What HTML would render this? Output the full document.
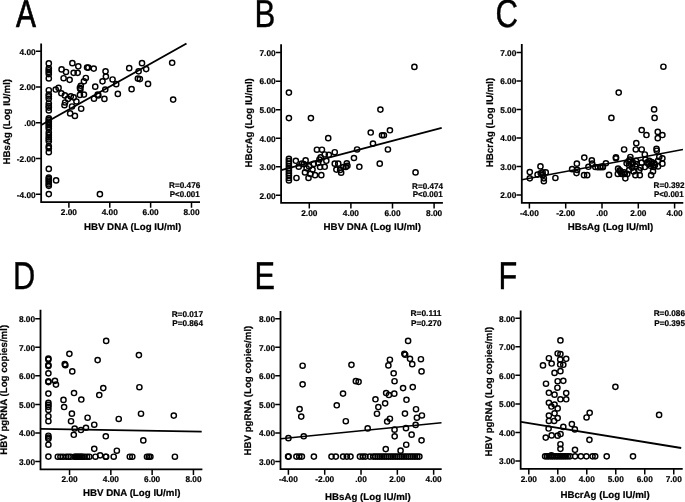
<!DOCTYPE html>
<html lang="en">
<head>
<meta charset="utf-8">
<title>Correlation scatter plots</title>
<style>
html,body{margin:0;padding:0;background:#fff;}
body{width:685px;height:502px;overflow:hidden;}
svg{display:block;font-family:"Liberation Sans",Arial,Helvetica,sans-serif;text-rendering:geometricPrecision;}
.ax{stroke:#000;stroke-width:1.8;fill:none;stroke-linecap:butt}
.tk{stroke:#000;stroke-width:1.5;fill:none}
.ln{stroke:#000;stroke-width:1.85;fill:none}
.pt circle{fill:none;stroke:#000;stroke-width:1.45}
.tl{font-size:8.3px;font-weight:bold;fill:#000;stroke:#000;stroke-width:0.2}
.ti{font-size:9.7px;font-weight:bold;fill:#000;stroke:#000;stroke-width:0.2}
.ty{font-size:9.7px;font-weight:bold;fill:#000;stroke:#000;stroke-width:0.2}
.st{font-size:8.3px;font-weight:bold;fill:#000;stroke:#000;stroke-width:0.2}
.lt{font-size:100px;font-weight:normal;fill:#000;stroke:#000;stroke-width:1.1}
</style>
</head>
<body>
<svg width="685" height="502" viewBox="0 0 685 502">
<rect x="0" y="0" width="685" height="502" fill="#fff"/>
<g>
<g id="panel-a">
<text class="lt" style="stroke-width:1.8" transform="matrix(0.2986 0 0 0.3910 16.04 27)" x="0" y="0">A</text>
<path class="ax" d="M41.15 43.6 V202.05 H200"/>
<path class="tk" d="M35.85 51.3H41.15M35.85 87.04H41.15M35.85 122.77H41.15M35.85 158.51H41.15M35.85 194.25H41.15M68.9 202.05V207.65M109.77 202.05V207.65M150.63 202.05V207.65M191.5 202.05V207.65"/>
<text class="tl" x="35.7" y="54.6" text-anchor="end" textLength="16.15" lengthAdjust="spacingAndGlyphs">4.00</text>
<text class="tl" x="35.7" y="90.34" text-anchor="end" textLength="16.15" lengthAdjust="spacingAndGlyphs">2.00</text>
<text class="tl" x="35.7" y="126.07" text-anchor="end" textLength="11.54" lengthAdjust="spacingAndGlyphs">.00</text>
<text class="tl" x="35.7" y="161.81" text-anchor="end" textLength="18.92" lengthAdjust="spacingAndGlyphs">-2.00</text>
<text class="tl" x="35.7" y="197.55" text-anchor="end" textLength="18.92" lengthAdjust="spacingAndGlyphs">-4.00</text>
<text class="tl" x="68.9" y="215.05" text-anchor="middle" textLength="16.15" lengthAdjust="spacingAndGlyphs">2.00</text>
<text class="tl" x="109.77" y="215.05" text-anchor="middle" textLength="16.15" lengthAdjust="spacingAndGlyphs">4.00</text>
<text class="tl" x="150.63" y="215.05" text-anchor="middle" textLength="16.15" lengthAdjust="spacingAndGlyphs">6.00</text>
<text class="tl" x="191.5" y="215.05" text-anchor="middle" textLength="16.15" lengthAdjust="spacingAndGlyphs">8.00</text>
<text class="ty" transform="translate(10.3 121.7) rotate(-90)" x="0" y="0" text-anchor="middle" textLength="85.6" lengthAdjust="spacingAndGlyphs">HBsAg (Log IU/ml)</text>
<text class="ti" x="132.6" y="229.7" text-anchor="middle" textLength="97.4" lengthAdjust="spacingAndGlyphs">HBV DNA (Log IU/ml)</text>
<text class="st" x="200.3" y="187.7" text-anchor="end" textLength="31.3" lengthAdjust="spacingAndGlyphs">R=0.476</text>
<text class="st" x="199.7" y="197" text-anchor="end" textLength="29.9" lengthAdjust="spacingAndGlyphs">P&lt;0.001</text>
<path class="ln" style="stroke-width:1.95" d="M41.3 125L186.5 43.5"/>
<g class="pt">
<circle cx="48.8" cy="63.4" r="2.6"/><circle cx="48.8" cy="68.3" r="2.6"/><circle cx="48.8" cy="70.2" r="2.6"/><circle cx="48.8" cy="72.1" r="2.6"/><circle cx="48.8" cy="74.1" r="2.6"/><circle cx="48.8" cy="78.4" r="2.6"/><circle cx="48.8" cy="90.2" r="2.6"/><circle cx="48.8" cy="94.6" r="2.6"/><circle cx="48.8" cy="96.4" r="2.6"/><circle cx="48.8" cy="98.8" r="2.6"/><circle cx="48.8" cy="103.6" r="2.6"/><circle cx="48.8" cy="106" r="2.6"/><circle cx="48.8" cy="107.6" r="2.6"/><circle cx="48.8" cy="110.4" r="2.6"/><circle cx="48.8" cy="118.3" r="2.6"/><circle cx="48.8" cy="119.9" r="2.6"/><circle cx="48.8" cy="121.6" r="2.6"/><circle cx="48.8" cy="123.1" r="2.6"/><circle cx="48.8" cy="124.9" r="2.6"/><circle cx="48.8" cy="126.8" r="2.6"/><circle cx="48.8" cy="128.7" r="2.6"/><circle cx="48.8" cy="132.5" r="2.6"/><circle cx="48.8" cy="135" r="2.6"/><circle cx="48.8" cy="137.5" r="2.6"/><circle cx="48.8" cy="139.4" r="2.6"/><circle cx="48.8" cy="141.3" r="2.6"/><circle cx="48.8" cy="146.3" r="2.6"/><circle cx="48.8" cy="148.2" r="2.6"/><circle cx="48.8" cy="152.2" r="2.6"/><circle cx="48.8" cy="168.9" r="2.6"/><circle cx="48.8" cy="177.5" r="2.6"/><circle cx="48.8" cy="179.1" r="2.6"/><circle cx="48.8" cy="180.7" r="2.6"/><circle cx="48.8" cy="182.4" r="2.6"/><circle cx="48.8" cy="184.3" r="2.6"/><circle cx="48.8" cy="185.8" r="2.6"/><circle cx="48.8" cy="194.1" r="2.6"/><circle cx="72.39" cy="63.16" r="2.6"/><circle cx="78.29" cy="66.3" r="2.6"/><circle cx="61.59" cy="69.44" r="2.6"/><circle cx="65.99" cy="71.95" r="2.6"/><circle cx="73.65" cy="72.83" r="2.6"/><circle cx="77.66" cy="72.83" r="2.6"/><circle cx="63.6" cy="78.23" r="2.6"/><circle cx="69.63" cy="79.86" r="2.6"/><circle cx="87.08" cy="67.55" r="2.6"/><circle cx="88.34" cy="67.55" r="2.6"/><circle cx="93.73" cy="68.56" r="2.6"/><circle cx="105.54" cy="71.32" r="2.6"/><circle cx="105.91" cy="76.59" r="2.6"/><circle cx="85.82" cy="77.98" r="2.6"/><circle cx="83.94" cy="81.36" r="2.6"/><circle cx="102.52" cy="81.36" r="2.6"/><circle cx="112.57" cy="79.48" r="2.6"/><circle cx="116.21" cy="84.13" r="2.6"/><circle cx="80.8" cy="85.76" r="2.6"/><circle cx="79.92" cy="87.89" r="2.6"/><circle cx="80.43" cy="89.15" r="2.6"/><circle cx="95.24" cy="86.64" r="2.6"/><circle cx="105.28" cy="89.53" r="2.6"/><circle cx="55.69" cy="89.53" r="2.6"/><circle cx="58.58" cy="87.89" r="2.6"/><circle cx="61.34" cy="93.29" r="2.6"/><circle cx="64.86" cy="95.43" r="2.6"/><circle cx="70.76" cy="96.43" r="2.6"/><circle cx="73.65" cy="97.44" r="2.6"/><circle cx="79.92" cy="94.92" r="2.6"/><circle cx="83.94" cy="94.55" r="2.6"/><circle cx="67.87" cy="98.94" r="2.6"/><circle cx="65.11" cy="102.46" r="2.6"/><circle cx="64.48" cy="105.22" r="2.6"/><circle cx="76.41" cy="101.45" r="2.6"/><circle cx="72.01" cy="106.47" r="2.6"/><circle cx="81.18" cy="108.73" r="2.6"/><circle cx="70.13" cy="113.38" r="2.6"/><circle cx="74.9" cy="115.89" r="2.6"/><circle cx="93.99" cy="98.69" r="2.6"/><circle cx="97.75" cy="94.55" r="2.6"/><circle cx="98.38" cy="95.43" r="2.6"/><circle cx="104.41" cy="98.94" r="2.6"/><circle cx="117.84" cy="93.92" r="2.6"/><circle cx="142.01" cy="63.16" r="2.6"/><circle cx="129.21" cy="68.18" r="2.6"/><circle cx="138.62" cy="71.32" r="2.6"/><circle cx="146.16" cy="69.06" r="2.6"/><circle cx="137.87" cy="78.6" r="2.6"/><circle cx="139.88" cy="79.11" r="2.6"/><circle cx="148.04" cy="83.88" r="2.6"/><circle cx="131.59" cy="89.15" r="2.6"/><circle cx="172.15" cy="62.78" r="2.6"/><circle cx="173.15" cy="99.57" r="2.6"/><circle cx="56.1" cy="180.4" r="2.6"/><circle cx="99.9" cy="194.2" r="2.6"/>
</g>
</g>
<g id="panel-b">
<text class="lt" transform="matrix(0.3119 0 0 0.3895 254.54 27)" x="0" y="0">B</text>
<path class="ax" d="M281.1 44.2 V202.85 H442.9"/>
<path class="tk" d="M275.8 52.6H281.1M275.8 81.14H281.1M275.8 109.68H281.1M275.8 138.22H281.1M275.8 166.76H281.1M275.8 195.3H281.1M309.3 202.85V208.45M350.9 202.85V208.45M392.5 202.85V208.45M434.1 202.85V208.45"/>
<text class="tl" x="275.65" y="55.9" text-anchor="end" textLength="16.15" lengthAdjust="spacingAndGlyphs">7.00</text>
<text class="tl" x="275.65" y="84.44" text-anchor="end" textLength="16.15" lengthAdjust="spacingAndGlyphs">6.00</text>
<text class="tl" x="275.65" y="112.98" text-anchor="end" textLength="16.15" lengthAdjust="spacingAndGlyphs">5.00</text>
<text class="tl" x="275.65" y="141.52" text-anchor="end" textLength="16.15" lengthAdjust="spacingAndGlyphs">4.00</text>
<text class="tl" x="275.65" y="170.06" text-anchor="end" textLength="16.15" lengthAdjust="spacingAndGlyphs">3.00</text>
<text class="tl" x="275.65" y="198.6" text-anchor="end" textLength="16.15" lengthAdjust="spacingAndGlyphs">2.00</text>
<text class="tl" x="309.3" y="215.85" text-anchor="middle" textLength="16.15" lengthAdjust="spacingAndGlyphs">2.00</text>
<text class="tl" x="350.9" y="215.85" text-anchor="middle" textLength="16.15" lengthAdjust="spacingAndGlyphs">4.00</text>
<text class="tl" x="392.5" y="215.85" text-anchor="middle" textLength="16.15" lengthAdjust="spacingAndGlyphs">6.00</text>
<text class="tl" x="434.1" y="215.85" text-anchor="middle" textLength="16.15" lengthAdjust="spacingAndGlyphs">8.00</text>
<text class="ty" transform="translate(251.7 122.9) rotate(-90)" x="0" y="0" text-anchor="middle" textLength="89.4" lengthAdjust="spacingAndGlyphs">HBcrAg (Log IU/ml)</text>
<text class="ti" x="372.3" y="230" text-anchor="middle" textLength="97.4" lengthAdjust="spacingAndGlyphs">HBV DNA (Log IU/ml)</text>
<text class="st" x="443" y="188.6" text-anchor="end" textLength="31" lengthAdjust="spacingAndGlyphs">R=0.474</text>
<text class="st" x="442.6" y="197.2" text-anchor="end" textLength="29.9" lengthAdjust="spacingAndGlyphs">P&lt;0.001</text>
<path class="ln" style="stroke-width:1.85" d="M281.2 170.2L441.7 127.8"/>
<g class="pt">
<circle cx="288.9" cy="158.8" r="2.6"/><circle cx="288.9" cy="161.2" r="2.6"/><circle cx="288.9" cy="163.6" r="2.6"/><circle cx="288.9" cy="166" r="2.6"/><circle cx="288.9" cy="168.4" r="2.6"/><circle cx="288.9" cy="170.8" r="2.6"/><circle cx="288.9" cy="173.2" r="2.6"/><circle cx="288.9" cy="175.6" r="2.6"/><circle cx="288.9" cy="178" r="2.6"/><circle cx="288.9" cy="180.4" r="2.6"/><circle cx="288.9" cy="92.6" r="2.6"/><circle cx="288.9" cy="118.1" r="2.6"/><circle cx="310.9" cy="118.1" r="2.6"/><circle cx="414.4" cy="66.9" r="2.6"/><circle cx="380.4" cy="109.6" r="2.6"/><circle cx="328.22" cy="138.16" r="2.6"/><circle cx="316.92" cy="149.71" r="2.6"/><circle cx="321.94" cy="149.71" r="2.6"/><circle cx="334.75" cy="152.22" r="2.6"/><circle cx="328.85" cy="154.86" r="2.6"/><circle cx="324.7" cy="154.48" r="2.6"/><circle cx="320.69" cy="157.37" r="2.6"/><circle cx="319.43" cy="159.5" r="2.6"/><circle cx="326.34" cy="160.76" r="2.6"/><circle cx="318.18" cy="162.89" r="2.6"/><circle cx="313.78" cy="163.9" r="2.6"/><circle cx="305.62" cy="160.38" r="2.6"/><circle cx="295.83" cy="160.76" r="2.6"/><circle cx="301.85" cy="163.65" r="2.6"/><circle cx="303.74" cy="164.15" r="2.6"/><circle cx="298.72" cy="166.66" r="2.6"/><circle cx="309.14" cy="166.41" r="2.6"/><circle cx="320.06" cy="167.04" r="2.6"/><circle cx="324.7" cy="166.79" r="2.6"/><circle cx="306.62" cy="168.29" r="2.6"/><circle cx="312.53" cy="169.55" r="2.6"/><circle cx="304.99" cy="172.44" r="2.6"/><circle cx="310.39" cy="173.94" r="2.6"/><circle cx="315.04" cy="175.2" r="2.6"/><circle cx="321.31" cy="175.2" r="2.6"/><circle cx="308.51" cy="177.96" r="2.6"/><circle cx="296.46" cy="177.96" r="2.6"/><circle cx="357.09" cy="149.46" r="2.6"/><circle cx="353.96" cy="158" r="2.6"/><circle cx="359.35" cy="166.79" r="2.6"/><circle cx="346.8" cy="163.27" r="2.6"/><circle cx="347.43" cy="165.78" r="2.6"/><circle cx="345.8" cy="167.04" r="2.6"/><circle cx="334.75" cy="163.65" r="2.6"/><circle cx="338.26" cy="163.65" r="2.6"/><circle cx="336.38" cy="169.55" r="2.6"/><circle cx="340.15" cy="169.92" r="2.6"/><circle cx="341.15" cy="172.69" r="2.6"/><circle cx="343.28" cy="167.04" r="2.6"/><circle cx="370.72" cy="132.51" r="2.6"/><circle cx="382.01" cy="135.27" r="2.6"/><circle cx="383.9" cy="135.27" r="2.6"/><circle cx="389.92" cy="130.25" r="2.6"/><circle cx="372.98" cy="143.56" r="2.6"/><circle cx="387.92" cy="149.46" r="2.6"/><circle cx="379.75" cy="163.65" r="2.6"/><circle cx="415.54" cy="172.44" r="2.6"/>
</g>
</g>
<g id="panel-c">
<text class="lt" style="stroke-width:1.1" transform="matrix(0.3126 0 0 0.3927 495.41 27.12)" x="0" y="0">C</text>
<path class="ax" d="M521.8 43.9 V202.9 H683.3"/>
<path class="tk" d="M516.5 52.4H521.8M516.5 80.93H521.8M516.5 109.46H521.8M516.5 137.99H521.8M516.5 166.52H521.8M516.5 195.05H521.8M529.4 202.9V208.5M565.7 202.9V208.5M602 202.9V208.5M638.3 202.9V208.5M674.6 202.9V208.5"/>
<text class="tl" x="516.35" y="55.7" text-anchor="end" textLength="16.15" lengthAdjust="spacingAndGlyphs">7.00</text>
<text class="tl" x="516.35" y="84.23" text-anchor="end" textLength="16.15" lengthAdjust="spacingAndGlyphs">6.00</text>
<text class="tl" x="516.35" y="112.76" text-anchor="end" textLength="16.15" lengthAdjust="spacingAndGlyphs">5.00</text>
<text class="tl" x="516.35" y="141.29" text-anchor="end" textLength="16.15" lengthAdjust="spacingAndGlyphs">4.00</text>
<text class="tl" x="516.35" y="169.82" text-anchor="end" textLength="16.15" lengthAdjust="spacingAndGlyphs">3.00</text>
<text class="tl" x="516.35" y="198.35" text-anchor="end" textLength="16.15" lengthAdjust="spacingAndGlyphs">2.00</text>
<text class="tl" x="529.4" y="215.9" text-anchor="middle" textLength="18.92" lengthAdjust="spacingAndGlyphs">-4.00</text>
<text class="tl" x="565.7" y="215.9" text-anchor="middle" textLength="18.92" lengthAdjust="spacingAndGlyphs">-2.00</text>
<text class="tl" x="602" y="215.9" text-anchor="middle" textLength="11.54" lengthAdjust="spacingAndGlyphs">.00</text>
<text class="tl" x="638.3" y="215.9" text-anchor="middle" textLength="16.15" lengthAdjust="spacingAndGlyphs">2.00</text>
<text class="tl" x="674.6" y="215.9" text-anchor="middle" textLength="16.15" lengthAdjust="spacingAndGlyphs">4.00</text>
<text class="ty" transform="translate(492.7 122.5) rotate(-90)" x="0" y="0" text-anchor="middle" textLength="89.4" lengthAdjust="spacingAndGlyphs">HBcrAg (Log IU/ml)</text>
<text class="ti" x="610.5" y="229.7" text-anchor="middle" textLength="85.6" lengthAdjust="spacingAndGlyphs">HBsAg (Log IU/ml)</text>
<text class="st" x="684.6" y="188.3" text-anchor="end" textLength="31" lengthAdjust="spacingAndGlyphs">R=0.392</text>
<text class="st" x="683.6" y="197.2" text-anchor="end" textLength="29.7" lengthAdjust="spacingAndGlyphs">P&lt;0.001</text>
<path class="ln" style="stroke-width:1.5" d="M521.8 179.8L683 149.6"/>
<g class="pt">
<circle cx="663.4" cy="66.7" r="2.6"/><circle cx="618.7" cy="92.6" r="2.6"/><circle cx="654.1" cy="109.4" r="2.6"/><circle cx="611.4" cy="117.9" r="2.6"/><circle cx="654.6" cy="117.9" r="2.6"/><circle cx="529.79" cy="172.06" r="2.6"/><circle cx="529.79" cy="178.34" r="2.6"/><circle cx="540.46" cy="166.41" r="2.6"/><circle cx="537.58" cy="174.57" r="2.6"/><circle cx="540.72" cy="173.31" r="2.6"/><circle cx="542.6" cy="172.44" r="2.6"/><circle cx="545.74" cy="172.44" r="2.6"/><circle cx="542.6" cy="175.2" r="2.6"/><circle cx="543.85" cy="178.34" r="2.6"/><circle cx="543.85" cy="181.22" r="2.6"/><circle cx="555.4" cy="177.96" r="2.6"/><circle cx="572.1" cy="169.17" r="2.6"/><circle cx="576.87" cy="163.65" r="2.6"/><circle cx="577.12" cy="169.92" r="2.6"/><circle cx="576.5" cy="173.06" r="2.6"/><circle cx="584.28" cy="157.62" r="2.6"/><circle cx="591.81" cy="160.38" r="2.6"/><circle cx="592.19" cy="163.65" r="2.6"/><circle cx="588.42" cy="166.79" r="2.6"/><circle cx="584.03" cy="175.2" r="2.6"/><circle cx="587.17" cy="175.2" r="2.6"/><circle cx="595.33" cy="167.04" r="2.6"/><circle cx="597.84" cy="167.29" r="2.6"/><circle cx="600.35" cy="167.29" r="2.6"/><circle cx="602.86" cy="167.29" r="2.6"/><circle cx="641.69" cy="130" r="2.6"/><circle cx="646.46" cy="135.02" r="2.6"/><circle cx="657.76" cy="131.88" r="2.6"/><circle cx="662.4" cy="135.02" r="2.6"/><circle cx="657.76" cy="138.16" r="2.6"/><circle cx="636.29" cy="143.18" r="2.6"/><circle cx="624.11" cy="149.46" r="2.6"/><circle cx="635.79" cy="149.46" r="2.6"/><circle cx="641.69" cy="149.46" r="2.6"/><circle cx="656.5" cy="148.83" r="2.6"/><circle cx="656.75" cy="150.72" r="2.6"/><circle cx="615.95" cy="157.37" r="2.6"/><circle cx="615.95" cy="158.25" r="2.6"/><circle cx="605.91" cy="163.27" r="2.6"/><circle cx="644.82" cy="154.48" r="2.6"/><circle cx="630.39" cy="156.99" r="2.6"/><circle cx="629.76" cy="159.5" r="2.6"/><circle cx="636.04" cy="160.76" r="2.6"/><circle cx="645.45" cy="159.5" r="2.6"/><circle cx="641.69" cy="162.64" r="2.6"/><circle cx="659.26" cy="156.99" r="2.6"/><circle cx="662.4" cy="158.25" r="2.6"/><circle cx="662.4" cy="163.65" r="2.6"/><circle cx="658.01" cy="160.76" r="2.6"/><circle cx="654.24" cy="163.27" r="2.6"/><circle cx="651.73" cy="163.9" r="2.6"/><circle cx="648.59" cy="163.9" r="2.6"/><circle cx="626.62" cy="163.27" r="2.6"/><circle cx="629.13" cy="165.15" r="2.6"/><circle cx="635.41" cy="166.41" r="2.6"/><circle cx="640.43" cy="167.66" r="2.6"/><circle cx="644.82" cy="167.04" r="2.6"/><circle cx="653.61" cy="167.04" r="2.6"/><circle cx="658.01" cy="166.41" r="2.6"/><circle cx="618.08" cy="168.67" r="2.6"/><circle cx="620.34" cy="171.43" r="2.6"/><circle cx="617.83" cy="173.94" r="2.6"/><circle cx="621.6" cy="173.94" r="2.6"/><circle cx="624.74" cy="173.94" r="2.6"/><circle cx="627.25" cy="173.94" r="2.6"/><circle cx="625.36" cy="178.34" r="2.6"/><circle cx="609.04" cy="174.95" r="2.6"/><circle cx="635.41" cy="175.2" r="2.6"/><circle cx="639.8" cy="175.2" r="2.6"/><circle cx="629.13" cy="170.18" r="2.6"/><circle cx="633.53" cy="171.43" r="2.6"/><circle cx="639.18" cy="170.18" r="2.6"/><circle cx="652.99" cy="171.43" r="2.6"/><circle cx="651.1" cy="175.2" r="2.6"/><circle cx="602.77" cy="166.41" r="2.6"/><circle cx="600.26" cy="166.79" r="2.6"/><circle cx="632.9" cy="162.64" r="2.6"/><circle cx="649.22" cy="160.76" r="2.6"/><circle cx="621.6" cy="173.31" r="2.6"/><circle cx="624.11" cy="172.44" r="2.6"/><circle cx="619.72" cy="170.43" r="2.6"/><circle cx="631.01" cy="164.15" r="2.6"/><circle cx="632.27" cy="167.66" r="2.6"/><circle cx="636.66" cy="164.15" r="2.6"/><circle cx="650.47" cy="165.78" r="2.6"/><circle cx="654.87" cy="165.15" r="2.6"/><circle cx="651.73" cy="162.01" r="2.6"/><circle cx="628.5" cy="161.39" r="2.6"/><circle cx="647.34" cy="162.39" r="2.6"/>
</g>
</g>
<g id="panel-d">
<text class="lt" transform="matrix(0.3073 0 0 0.3881 13.08 288.9)" x="0" y="0">D</text>
<path class="ax" d="M40.5 309.8 V469.3 H202.4"/>
<path class="tk" d="M35.2 318.8H40.5M35.2 347.33H40.5M35.2 375.86H40.5M35.2 404.39H40.5M35.2 432.92H40.5M35.2 461.45H40.5M69.55 469.3V474.9M110.85 469.3V474.9M152.15 469.3V474.9M193.45 469.3V474.9"/>
<text class="tl" x="35.05" y="322.1" text-anchor="end" textLength="16.15" lengthAdjust="spacingAndGlyphs">8.00</text>
<text class="tl" x="35.05" y="350.63" text-anchor="end" textLength="16.15" lengthAdjust="spacingAndGlyphs">7.00</text>
<text class="tl" x="35.05" y="379.16" text-anchor="end" textLength="16.15" lengthAdjust="spacingAndGlyphs">6.00</text>
<text class="tl" x="35.05" y="407.69" text-anchor="end" textLength="16.15" lengthAdjust="spacingAndGlyphs">5.00</text>
<text class="tl" x="35.05" y="436.22" text-anchor="end" textLength="16.15" lengthAdjust="spacingAndGlyphs">4.00</text>
<text class="tl" x="35.05" y="464.75" text-anchor="end" textLength="16.15" lengthAdjust="spacingAndGlyphs">3.00</text>
<text class="tl" x="69.55" y="482.3" text-anchor="middle" textLength="16.15" lengthAdjust="spacingAndGlyphs">2.00</text>
<text class="tl" x="110.85" y="482.3" text-anchor="middle" textLength="16.15" lengthAdjust="spacingAndGlyphs">4.00</text>
<text class="tl" x="152.15" y="482.3" text-anchor="middle" textLength="16.15" lengthAdjust="spacingAndGlyphs">6.00</text>
<text class="tl" x="193.45" y="482.3" text-anchor="middle" textLength="16.15" lengthAdjust="spacingAndGlyphs">8.00</text>
<text class="ty" transform="translate(7.3 389.8) rotate(-90)" x="0" y="0" text-anchor="middle" textLength="129.8" lengthAdjust="spacingAndGlyphs">HBV pgRNA (Log copies/ml)</text>
<text class="ti" x="131.7" y="495.5" text-anchor="middle" textLength="97.4" lengthAdjust="spacingAndGlyphs">HBV DNA (Log IU/ml)</text>
<text class="st" x="203" y="316.8" text-anchor="end" textLength="31.3" lengthAdjust="spacingAndGlyphs">R=0.017</text>
<text class="st" x="203" y="325.8" text-anchor="end" textLength="30.8" lengthAdjust="spacingAndGlyphs">P=0.864</text>
<path class="ln" style="stroke-width:1.8" d="M40.7 428.9L201.7 431.6"/>
<g class="pt">
<circle cx="48.4" cy="358.6" r="2.6"/><circle cx="48.4" cy="359.6" r="2.6"/><circle cx="48.4" cy="365.1" r="2.6"/><circle cx="48.4" cy="366.1" r="2.6"/><circle cx="48.4" cy="373.3" r="2.6"/><circle cx="48.4" cy="381.2" r="2.6"/><circle cx="48.4" cy="382.1" r="2.6"/><circle cx="48.4" cy="393.6" r="2.6"/><circle cx="48.4" cy="402.8" r="2.6"/><circle cx="48.4" cy="404.9" r="2.6"/><circle cx="48.4" cy="406.8" r="2.6"/><circle cx="48.4" cy="409.9" r="2.6"/><circle cx="48.4" cy="416.2" r="2.6"/><circle cx="48.4" cy="421.2" r="2.6"/><circle cx="48.4" cy="435.7" r="2.6"/><circle cx="48.4" cy="437.5" r="2.6"/><circle cx="48.4" cy="438.8" r="2.6"/><circle cx="48.4" cy="444.7" r="2.6"/><circle cx="48.4" cy="456.6" r="2.6"/><circle cx="69.39" cy="353.83" r="2.6"/><circle cx="64.74" cy="364.13" r="2.6"/><circle cx="65.37" cy="365.13" r="2.6"/><circle cx="72.27" cy="371.41" r="2.6"/><circle cx="54.95" cy="380.82" r="2.6"/><circle cx="55.95" cy="384.59" r="2.6"/><circle cx="74.03" cy="393" r="2.6"/><circle cx="97.64" cy="360.11" r="2.6"/><circle cx="106.17" cy="340.9" r="2.6"/><circle cx="103.28" cy="388.11" r="2.6"/><circle cx="99.27" cy="395.01" r="2.6"/><circle cx="63.49" cy="399.88" r="2.6"/><circle cx="81.31" cy="399.51" r="2.6"/><circle cx="64.11" cy="407.04" r="2.6"/><circle cx="71.9" cy="413.69" r="2.6"/><circle cx="71.02" cy="421.23" r="2.6"/><circle cx="87.59" cy="417.71" r="2.6"/><circle cx="94.25" cy="424.74" r="2.6"/><circle cx="118.73" cy="418.97" r="2.6"/><circle cx="74.66" cy="428.51" r="2.6"/><circle cx="80.94" cy="430.01" r="2.6"/><circle cx="85.96" cy="427.75" r="2.6"/><circle cx="73.78" cy="434.79" r="2.6"/><circle cx="105.8" cy="436.29" r="2.6"/><circle cx="94.25" cy="448.85" r="2.6"/><circle cx="116.84" cy="450.73" r="2.6"/><circle cx="100.15" cy="455.33" r="2.6"/><circle cx="57.81" cy="456.7" r="2.6"/><circle cx="60.44" cy="456.7" r="2.6"/><circle cx="63.07" cy="456.7" r="2.6"/><circle cx="66.28" cy="456.7" r="2.6"/><circle cx="68.47" cy="456.7" r="2.6"/><circle cx="70.66" cy="456.7" r="2.6"/><circle cx="74.45" cy="456.7" r="2.6"/><circle cx="75.62" cy="456.7" r="2.6"/><circle cx="76.79" cy="456.7" r="2.6"/><circle cx="77.96" cy="456.7" r="2.6"/><circle cx="79.12" cy="456.7" r="2.6"/><circle cx="80.29" cy="456.7" r="2.6"/><circle cx="81.46" cy="456.7" r="2.6"/><circle cx="82.63" cy="456.7" r="2.6"/><circle cx="84.53" cy="456.7" r="2.6"/><circle cx="87.01" cy="456.7" r="2.6"/><circle cx="89.34" cy="456.7" r="2.6"/><circle cx="95.47" cy="456.7" r="2.6"/><circle cx="105.69" cy="456.7" r="2.6"/><circle cx="106.13" cy="456.7" r="2.6"/><circle cx="113.72" cy="456.7" r="2.6"/><circle cx="138.9" cy="355.1" r="2.6"/><circle cx="139.4" cy="387.2" r="2.6"/><circle cx="141" cy="413.7" r="2.6"/><circle cx="173.8" cy="415.6" r="2.6"/><circle cx="143.3" cy="440.4" r="2.6"/><circle cx="129.8" cy="456.7" r="2.6"/><circle cx="132.3" cy="456.7" r="2.6"/><circle cx="147" cy="456.7" r="2.6"/><circle cx="148.9" cy="456.7" r="2.6"/><circle cx="150.4" cy="456.7" r="2.6"/><circle cx="174.9" cy="456.7" r="2.6"/>
</g>
</g>
<g id="panel-e">
<text class="lt" transform="matrix(0.3063 0 0 0.3881 254.59 288.9)" x="0" y="0">E</text>
<path class="ax" d="M280.5 311 V469.1 H441.7"/>
<path class="tk" d="M275.2 318.8H280.5M275.2 347.33H280.5M275.2 375.86H280.5M275.2 404.39H280.5M275.2 432.92H280.5M275.2 461.45H280.5M288.4 469.1V474.7M324.71 469.1V474.7M361.02 469.1V474.7M397.34 469.1V474.7M433.65 469.1V474.7"/>
<text class="tl" x="275.05" y="322.1" text-anchor="end" textLength="16.15" lengthAdjust="spacingAndGlyphs">8.00</text>
<text class="tl" x="275.05" y="350.63" text-anchor="end" textLength="16.15" lengthAdjust="spacingAndGlyphs">7.00</text>
<text class="tl" x="275.05" y="379.16" text-anchor="end" textLength="16.15" lengthAdjust="spacingAndGlyphs">6.00</text>
<text class="tl" x="275.05" y="407.69" text-anchor="end" textLength="16.15" lengthAdjust="spacingAndGlyphs">5.00</text>
<text class="tl" x="275.05" y="436.22" text-anchor="end" textLength="16.15" lengthAdjust="spacingAndGlyphs">4.00</text>
<text class="tl" x="275.05" y="464.75" text-anchor="end" textLength="16.15" lengthAdjust="spacingAndGlyphs">3.00</text>
<text class="tl" x="288.4" y="482.1" text-anchor="middle" textLength="18.92" lengthAdjust="spacingAndGlyphs">-4.00</text>
<text class="tl" x="324.71" y="482.1" text-anchor="middle" textLength="18.92" lengthAdjust="spacingAndGlyphs">-2.00</text>
<text class="tl" x="361.02" y="482.1" text-anchor="middle" textLength="11.54" lengthAdjust="spacingAndGlyphs">.00</text>
<text class="tl" x="397.34" y="482.1" text-anchor="middle" textLength="16.15" lengthAdjust="spacingAndGlyphs">2.00</text>
<text class="tl" x="433.65" y="482.1" text-anchor="middle" textLength="16.15" lengthAdjust="spacingAndGlyphs">4.00</text>
<text class="ty" transform="translate(250.9 390.6) rotate(-90)" x="0" y="0" text-anchor="middle" textLength="129.8" lengthAdjust="spacingAndGlyphs">HBV pgRNA (Log copies/ml)</text>
<text class="ti" x="367.9" y="499.5" text-anchor="middle" textLength="85.6" lengthAdjust="spacingAndGlyphs">HBsAg (Log IU/ml)</text>
<text class="st" x="441.5" y="316.2" text-anchor="end" textLength="31" lengthAdjust="spacingAndGlyphs">R=0.111</text>
<text class="st" x="441.5" y="325.5" text-anchor="end" textLength="30.5" lengthAdjust="spacingAndGlyphs">P=0.270</text>
<path class="ln" style="stroke-width:1.5" d="M280.7 438.8L441.5 422.7"/>
<g class="pt">
<circle cx="299.59" cy="409.05" r="2.6"/><circle cx="301.23" cy="416.58" r="2.6"/><circle cx="336.76" cy="405.28" r="2.6"/><circle cx="345.8" cy="421.23" r="2.6"/><circle cx="288.42" cy="438.18" r="2.6"/><circle cx="303.74" cy="436.29" r="2.6"/><circle cx="302.61" cy="365.74" r="2.6"/><circle cx="302.61" cy="384.32" r="2.6"/><circle cx="351.45" cy="364.86" r="2.6"/><circle cx="355.84" cy="381.18" r="2.6"/><circle cx="358.6" cy="381.81" r="2.6"/><circle cx="343.03" cy="393.61" r="2.6"/><circle cx="408.1" cy="340.9" r="2.6"/><circle cx="404.34" cy="353.83" r="2.6"/><circle cx="405.21" cy="354.71" r="2.6"/><circle cx="409.99" cy="358.85" r="2.6"/><circle cx="412.25" cy="364.13" r="2.6"/><circle cx="420.91" cy="359.23" r="2.6"/><circle cx="421.54" cy="371.41" r="2.6"/><circle cx="389.9" cy="359.73" r="2.6"/><circle cx="388.39" cy="365.38" r="2.6"/><circle cx="393.66" cy="373.29" r="2.6"/><circle cx="394.54" cy="381.2" r="2.6"/><circle cx="403.08" cy="388.11" r="2.6"/><circle cx="412.75" cy="387.1" r="2.6"/><circle cx="386.13" cy="393" r="2.6"/><circle cx="388.89" cy="395.01" r="2.6"/><circle cx="394.29" cy="393.63" r="2.6"/><circle cx="375.46" cy="399.28" r="2.6"/><circle cx="385.13" cy="403.3" r="2.6"/><circle cx="378.35" cy="407.07" r="2.6"/><circle cx="376.97" cy="413.72" r="2.6"/><circle cx="406.47" cy="399.78" r="2.6"/><circle cx="416.01" cy="409.2" r="2.6"/><circle cx="404.96" cy="413.59" r="2.6"/><circle cx="421.91" cy="415.48" r="2.6"/><circle cx="416.89" cy="417.74" r="2.6"/><circle cx="389.9" cy="418.74" r="2.6"/><circle cx="387.14" cy="421.5" r="2.6"/><circle cx="367.68" cy="428.41" r="2.6"/><circle cx="415.64" cy="424.89" r="2.6"/><circle cx="405.97" cy="428.16" r="2.6"/><circle cx="394.54" cy="429.66" r="2.6"/><circle cx="394.67" cy="436.32" r="2.6"/><circle cx="411.62" cy="434.69" r="2.6"/><circle cx="421.54" cy="440.34" r="2.6"/><circle cx="406.22" cy="444.73" r="2.6"/><circle cx="385.75" cy="449.12" r="2.6"/><circle cx="400.57" cy="450.63" r="2.6"/><circle cx="288.1" cy="456.6" r="2.6"/><circle cx="288.6" cy="456.6" r="2.6"/><circle cx="296.4" cy="456.6" r="2.6"/><circle cx="299.3" cy="456.6" r="2.6"/><circle cx="301.9" cy="456.6" r="2.6"/><circle cx="313.9" cy="456.6" r="2.6"/><circle cx="331.5" cy="456.6" r="2.6"/><circle cx="335.8" cy="456.6" r="2.6"/><circle cx="343.1" cy="456.6" r="2.6"/><circle cx="346.8" cy="456.6" r="2.6"/><circle cx="350.5" cy="456.6" r="2.6"/><circle cx="359.9" cy="456.6" r="2.6"/><circle cx="362.8" cy="456.6" r="2.6"/><circle cx="365.4" cy="456.6" r="2.6"/><circle cx="369.8" cy="456.6" r="2.6"/><circle cx="373.2" cy="456.6" r="2.6"/><circle cx="375.4" cy="456.6" r="2.6"/><circle cx="377.6" cy="456.6" r="2.6"/><circle cx="379.8" cy="456.6" r="2.6"/><circle cx="382" cy="456.6" r="2.6"/><circle cx="384.2" cy="456.6" r="2.6"/><circle cx="386.4" cy="456.6" r="2.6"/><circle cx="388.6" cy="456.6" r="2.6"/><circle cx="390.8" cy="456.6" r="2.6"/><circle cx="393" cy="456.6" r="2.6"/><circle cx="395.2" cy="456.6" r="2.6"/><circle cx="397.4" cy="456.6" r="2.6"/><circle cx="399.6" cy="456.6" r="2.6"/><circle cx="401.8" cy="456.6" r="2.6"/><circle cx="404" cy="456.6" r="2.6"/><circle cx="406.2" cy="456.6" r="2.6"/><circle cx="408.4" cy="456.6" r="2.6"/><circle cx="410.6" cy="456.6" r="2.6"/><circle cx="412.8" cy="456.6" r="2.6"/><circle cx="415" cy="456.6" r="2.6"/><circle cx="417.2" cy="456.6" r="2.6"/><circle cx="419.4" cy="456.6" r="2.6"/>
</g>
</g>
<g id="panel-f">
<text class="lt" transform="matrix(0.3069 0 0 0.3881 498.38 288.9)" x="0" y="0">F</text>
<path class="ax" d="M520.65 310.4 V468.8 H682.7"/>
<path class="tk" d="M515.35 318.2H520.65M515.35 346.78H520.65M515.35 375.36H520.65M515.35 403.94H520.65M515.35 432.52H520.65M515.35 461.1H520.65M528.8 468.8V474.4M557.79 468.8V474.4M586.78 468.8V474.4M615.77 468.8V474.4M644.76 468.8V474.4M673.75 468.8V474.4"/>
<text class="tl" x="515.2" y="321.5" text-anchor="end" textLength="16.15" lengthAdjust="spacingAndGlyphs">8.00</text>
<text class="tl" x="515.2" y="350.08" text-anchor="end" textLength="16.15" lengthAdjust="spacingAndGlyphs">7.00</text>
<text class="tl" x="515.2" y="378.66" text-anchor="end" textLength="16.15" lengthAdjust="spacingAndGlyphs">6.00</text>
<text class="tl" x="515.2" y="407.24" text-anchor="end" textLength="16.15" lengthAdjust="spacingAndGlyphs">5.00</text>
<text class="tl" x="515.2" y="435.82" text-anchor="end" textLength="16.15" lengthAdjust="spacingAndGlyphs">4.00</text>
<text class="tl" x="515.2" y="464.4" text-anchor="end" textLength="16.15" lengthAdjust="spacingAndGlyphs">3.00</text>
<text class="tl" x="528.8" y="481.8" text-anchor="middle" textLength="16.15" lengthAdjust="spacingAndGlyphs">2.00</text>
<text class="tl" x="557.79" y="481.8" text-anchor="middle" textLength="16.15" lengthAdjust="spacingAndGlyphs">3.00</text>
<text class="tl" x="586.78" y="481.8" text-anchor="middle" textLength="16.15" lengthAdjust="spacingAndGlyphs">4.00</text>
<text class="tl" x="615.77" y="481.8" text-anchor="middle" textLength="16.15" lengthAdjust="spacingAndGlyphs">5.00</text>
<text class="tl" x="644.76" y="481.8" text-anchor="middle" textLength="16.15" lengthAdjust="spacingAndGlyphs">6.00</text>
<text class="tl" x="673.75" y="481.8" text-anchor="middle" textLength="16.15" lengthAdjust="spacingAndGlyphs">7.00</text>
<text class="ty" transform="translate(492.4 391.6) rotate(-90)" x="0" y="0" text-anchor="middle" textLength="129.8" lengthAdjust="spacingAndGlyphs">HBV pgRNA (Log copies/ml)</text>
<text class="ti" x="605.1" y="497.6" text-anchor="middle" textLength="89.4" lengthAdjust="spacingAndGlyphs">HBcrAg (Log IU/ml)</text>
<text class="st" x="685" y="316" text-anchor="end" textLength="31.3" lengthAdjust="spacingAndGlyphs">R=0.086</text>
<text class="st" x="685" y="325.5" text-anchor="end" textLength="30.8" lengthAdjust="spacingAndGlyphs">P=0.395</text>
<path class="ln" style="stroke-width:1.95" d="M521 421.9L681.2 448"/>
<g class="pt">
<circle cx="560.43" cy="340.4" r="2.6"/><circle cx="557.66" cy="353.46" r="2.6"/><circle cx="560.43" cy="354.08" r="2.6"/><circle cx="548.88" cy="358.23" r="2.6"/><circle cx="560.18" cy="359.48" r="2.6"/><circle cx="566.2" cy="358.85" r="2.6"/><circle cx="551.64" cy="363.5" r="2.6"/><circle cx="542.98" cy="365.38" r="2.6"/><circle cx="560.18" cy="364.5" r="2.6"/><circle cx="563.31" cy="364.75" r="2.6"/><circle cx="560.43" cy="371.16" r="2.6"/><circle cx="554.53" cy="372.92" r="2.6"/><circle cx="557.66" cy="381.2" r="2.6"/><circle cx="563.31" cy="380.82" r="2.6"/><circle cx="545.99" cy="383.71" r="2.6"/><circle cx="557.41" cy="387.73" r="2.6"/><circle cx="548.88" cy="392.75" r="2.6"/><circle cx="554.53" cy="394.64" r="2.6"/><circle cx="566.2" cy="393" r="2.6"/><circle cx="560.43" cy="399.26" r="2.6"/><circle cx="566.2" cy="399.26" r="2.6"/><circle cx="548.88" cy="402.77" r="2.6"/><circle cx="551.39" cy="406.54" r="2.6"/><circle cx="554.53" cy="404.53" r="2.6"/><circle cx="557.66" cy="408.42" r="2.6"/><circle cx="554.53" cy="413.32" r="2.6"/><circle cx="548.88" cy="415.58" r="2.6"/><circle cx="557.66" cy="418.09" r="2.6"/><circle cx="548.88" cy="420.98" r="2.6"/><circle cx="554.15" cy="420.98" r="2.6"/><circle cx="589.68" cy="412.81" r="2.6"/><circle cx="586.54" cy="417.46" r="2.6"/><circle cx="571.85" cy="424.11" r="2.6"/><circle cx="563.31" cy="426.88" r="2.6"/><circle cx="574.86" cy="429.39" r="2.6"/><circle cx="548.62" cy="428.51" r="2.6"/><circle cx="560.55" cy="434.03" r="2.6"/><circle cx="557.66" cy="435.66" r="2.6"/><circle cx="551.64" cy="435.41" r="2.6"/><circle cx="545.74" cy="437.55" r="2.6"/><circle cx="560.43" cy="444.2" r="2.6"/><circle cx="560.43" cy="448.85" r="2.6"/><circle cx="589.43" cy="439.81" r="2.6"/><circle cx="574.99" cy="449.85" r="2.6"/><circle cx="551.4" cy="455.2" r="2.6"/><circle cx="545.11" cy="456.35" r="2.6"/><circle cx="547.01" cy="456.35" r="2.6"/><circle cx="548.76" cy="456.35" r="2.6"/><circle cx="550.8" cy="456.35" r="2.6"/><circle cx="552.55" cy="456.35" r="2.6"/><circle cx="554.45" cy="456.35" r="2.6"/><circle cx="556.35" cy="456.35" r="2.6"/><circle cx="558.1" cy="456.35" r="2.6"/><circle cx="560" cy="456.35" r="2.6"/><circle cx="561.9" cy="456.35" r="2.6"/><circle cx="563.8" cy="456.35" r="2.6"/><circle cx="565.69" cy="456.35" r="2.6"/><circle cx="567.74" cy="456.35" r="2.6"/><circle cx="569.93" cy="456.35" r="2.6"/><circle cx="575.04" cy="456.35" r="2.6"/><circle cx="580.88" cy="456.35" r="2.6"/><circle cx="586.42" cy="456.35" r="2.6"/><circle cx="592.55" cy="456.35" r="2.6"/><circle cx="595.18" cy="456.35" r="2.6"/><circle cx="606.7" cy="456.35" r="2.6"/><circle cx="633" cy="456.35" r="2.6"/><circle cx="615.4" cy="386.8" r="2.6"/><circle cx="659.1" cy="414.9" r="2.6"/>
</g>
</g>
</g>
</svg>
</body>
</html>
